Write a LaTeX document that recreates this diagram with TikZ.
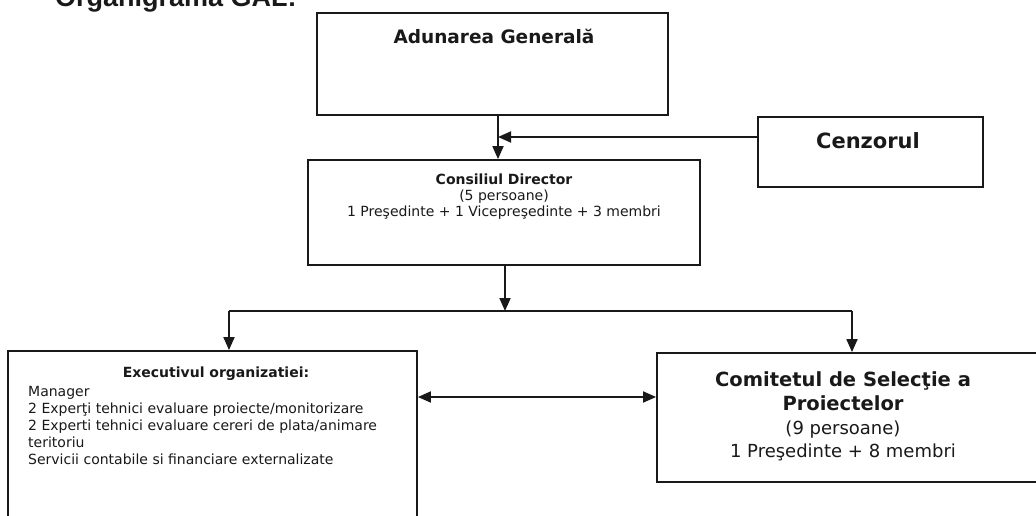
\documentclass[tikz,border=0pt]{standalone}
\usepackage{fontspec}
\setmainfont{DejaVu Sans}
\newfontfamily\titlefont{Liberation Sans}
\usetikzlibrary{arrows.meta}
\tikzset{
  box/.style={draw=black!90, line width=1.8pt, rectangle, inner sep=0pt},
  conn/.style={line width=1.8pt, draw=black!90},
  arr/.style={conn, -{Triangle[length=13pt,width=11pt]}},
  arrb/.style={conn, {Triangle[length=13pt,width=11pt]}-{Triangle[length=13pt,width=11pt]}},
  txt/.style={anchor=base, inner sep=0pt, text=black!90},
  ltxt/.style={anchor=base west, inner sep=0pt, text=black!90},
  fs/.style={font=\fontsize{#1}{#1}\selectfont},
  fb/.style={font=\fontsize{#1}{#1}\selectfont\bfseries},
}
\begin{document}
\begin{tikzpicture}[x=1pt,y=-1pt]
\useasboundingbox (0,0) rectangle (1036,516);
\clip (0,0) rectangle (1036,516);
% title
\node[ltxt, font=\titlefont\bfseries\fontsize{27}{27}\selectfont] (title) at (55,7) {Organigrama GAL:};
% boxes
\node[box, minimum width=351pt, minimum height=102pt] (ag) at (492.5,64) {};
\node[box, minimum width=225pt, minimum height=70pt] (cz) at (870.5,152) {};
\node[box, minimum width=392pt, minimum height=105pt] (cd) at (504,212.5) {};
\node[box, minimum width=409pt, minimum height=190pt] (ex) at (212.5,446) {};
\node[box, minimum width=390pt, minimum height=129pt] (cs) at (852,417.5) {};
% texts
\node[txt, fb=18.5] (agt) at (494,44) {Adunarea General\u{a}};
\node[txt, fb=21] (czt) at (868,149) {Cenzorul};
\node[txt, fb=14] (cd1) at (504,184) {Consiliul Director};
\node[txt, fs=14] (cd2) at (504,200) {(5 persoane)};
\node[txt, fs=14] (cd3) at (504,216) {1 Preşedinte + 1 Vicepreşedinte + 3 membri};
\node[txt, fb=14] (ex0) at (216,377) {Executivul organizatiei:};
\node[ltxt, fs=14] (ex1) at (28,396) {Manager};
\node[ltxt, fs=14] (ex2) at (28,413) {2 Experţi tehnici evaluare proiecte/monitorizare};
\node[ltxt, fs=14] (ex3) at (28,430) {2 Experti tehnici evaluare cereri de plata/animare};
\node[ltxt, fs=14] (ex4) at (28,447) {teritoriu};
\node[ltxt, fs=14] (ex5) at (28,464) {Servicii contabile si financiare externalizate};
\node[txt, fb=19.5] (cs1) at (843,386) {Comitetul de Selecţie a};
\node[txt, fb=19.5] (cs2) at (843,410) {Proiectelor};
\node[txt, fs=18] (cs3) at (843,434) {(9 persoane)};
\node[txt, fs=18] (cs4) at (843,457) {1 Preşedinte + 8 membri};
% connectors
\coordinate (j1) at (498,137);
\coordinate (sp) at (505,311);
\coordinate (lt) at (229,311);
\coordinate (rt) at (852,311);
\coordinate (dy) at (0,397);
\draw[arr] (ag.south -| j1) -- (cd.north -| j1);
\draw[arr] (cz.west |- j1) -- (j1);
\draw[arr] (cd.south -| sp) -- (sp);
\draw[conn] (lt) -- (rt);
\draw[arr] (lt) -- (ex.north -| lt);
\draw[arr] (rt) -- (cs.north -| rt);
\draw[arrb] (ex.east |- dy) -- (cs.west |- dy);
\end{tikzpicture}
\end{document}
